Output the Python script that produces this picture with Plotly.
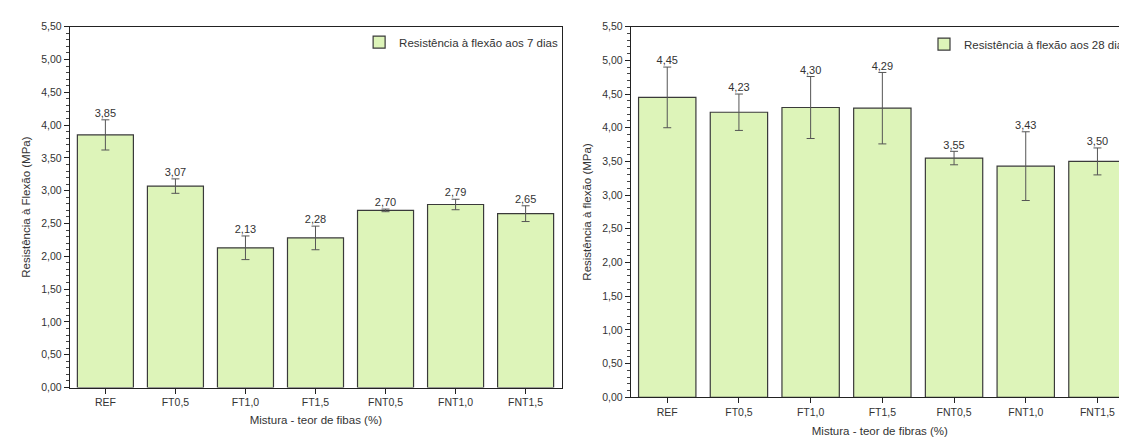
import plotly.graph_objects as go

# ---- data ----
categories = ["REF", "FT0,5", "FT1,0", "FT1,5", "FNT0,5", "FNT1,0", "FNT1,5"]
values_7d = [3.85, 3.07, 2.13, 2.28, 2.70, 2.79, 2.65]
errors_7d = [0.23, 0.11, 0.18, 0.18, 0.02, 0.08, 0.12]
values_28d = [4.45, 4.23, 4.30, 4.29, 3.55, 3.43, 3.50]
errors_28d = [0.45, 0.27, 0.46, 0.53, 0.10, 0.51, 0.20]
y_tickvals = [0, 0.5, 1.0, 1.5, 2.0, 2.5, 3.0, 3.5, 4.0, 4.5, 5.0, 5.5]
y_ticktext = ["0,00", "0,50", "1,00", "1,50", "2,00", "2,50", "3,00",
              "3,50", "4,00", "4,50", "5,00", "5,50"]

W, H = 1127, 441
FONT = "Liberation Sans, Arial, sans-serif"
TXT = "#333333"
BAR_FILL = "#DDF4B9"
BAR_LINE = "#3a3a3a"


def fmt(v):
    return f"{v:.2f}".replace(".", ",")


fig = go.Figure()

# left panel (7 days)
fig.add_trace(go.Bar(
    x=categories, y=values_7d, xaxis="x", yaxis="y",
    name="Resistência à flexão aos 7 dias", legend="legend",
    marker=dict(color=BAR_FILL, line=dict(color=BAR_LINE, width=1.2)),
    width=0.8,
    error_y=dict(type="data", array=errors_7d, color="#555555", thickness=1, width=4),
))
fig.add_trace(go.Scatter(
    x=categories, y=[v + e for v, e in zip(values_7d, errors_7d)],
    xaxis="x", yaxis="y", mode="text", showlegend=False,
    text=[fmt(v) for v in values_7d], textposition="top center",
    textfont=dict(family=FONT, size=11, color=TXT), hoverinfo="skip",
))

# right panel (28 days)
fig.add_trace(go.Bar(
    x=categories, y=values_28d, xaxis="x2", yaxis="y2",
    name="Resistência à flexão aos 28 dias", legend="legend2",
    marker=dict(color=BAR_FILL, line=dict(color=BAR_LINE, width=1.2)),
    width=0.8,
    error_y=dict(type="data", array=errors_28d, color="#555555", thickness=1, width=4),
))
fig.add_trace(go.Scatter(
    x=categories, y=[v + e for v, e in zip(values_28d, errors_28d)],
    xaxis="x2", yaxis="y2", mode="text", showlegend=False,
    text=[fmt(v) for v in values_28d], textposition="top center",
    textfont=dict(family=FONT, size=11, color=TXT), hoverinfo="skip",
))

tickfont = dict(family=FONT, size=10.5, color=TXT)
titlefont = dict(family=FONT, size=11.5, color=TXT)


def xaxis_cfg(domain, anchor, title, rng, standoff):
    return dict(
        domain=domain, anchor=anchor, range=rng, type="category",
        showline=True, linecolor="#222222", linewidth=1, mirror=True,
        ticks="outside", ticklen=5, tickcolor="#222222", tickfont=tickfont,
        showgrid=False, zeroline=False,
        title=dict(text=title, font=titlefont, standoff=standoff),
    )


def yaxis_cfg(domain, anchor, title):
    return dict(
        domain=domain, anchor=anchor, range=[0, 5.5],
        tickvals=y_tickvals, ticktext=y_ticktext,
        showline=True, linecolor="#222222", linewidth=1, mirror=True,
        ticks="outside", ticklen=5, tickcolor="#222222", tickfont=tickfont,
        minor=dict(dtick=0.1, tick0=0, ticks="outside", ticklen=3, tickcolor="#444444"),
        showgrid=False, zeroline=False,
        title=dict(text=title, font=titlefont, standoff=8),
    )


fig.update_layout(
    width=W, height=H,
    margin=dict(l=0, r=0, t=0, b=0),
    paper_bgcolor="white", plot_bgcolor="white",
    bargap=0.2,
    font=dict(family=FONT, color=TXT),
    xaxis=xaxis_cfg([62 / W, 557 / W], "y", "Mistura - teor de fibas (%)", [-0.51, 6.52], 8),
    yaxis=yaxis_cfg([(H - 384) / H, (H - 13) / H], "x", "Resistência à Flexão (MPa)"),
    xaxis2=xaxis_cfg([626 / W, 1.0], "y2", "Mistura - teor de fibras (%)", [-0.51, 6.44], 10),
    yaxis2=yaxis_cfg([(H - 394) / H, (H - 13) / H], "x2", "Resistência à flexão (MPa)"),
    legend=dict(x=353 / W, y=(H - 14) / H, xanchor="left", yanchor="top",
                bgcolor="rgba(0,0,0,0)", font=dict(family=FONT, size=11.5, color=TXT)),
    legend2=dict(x=921 / W, y=(H - 16) / H, xanchor="left", yanchor="top",
                 bgcolor="rgba(0,0,0,0)", font=dict(family=FONT, size=11.5, color=TXT)),
    showlegend=True,
)

fig.write_html("out.html")
